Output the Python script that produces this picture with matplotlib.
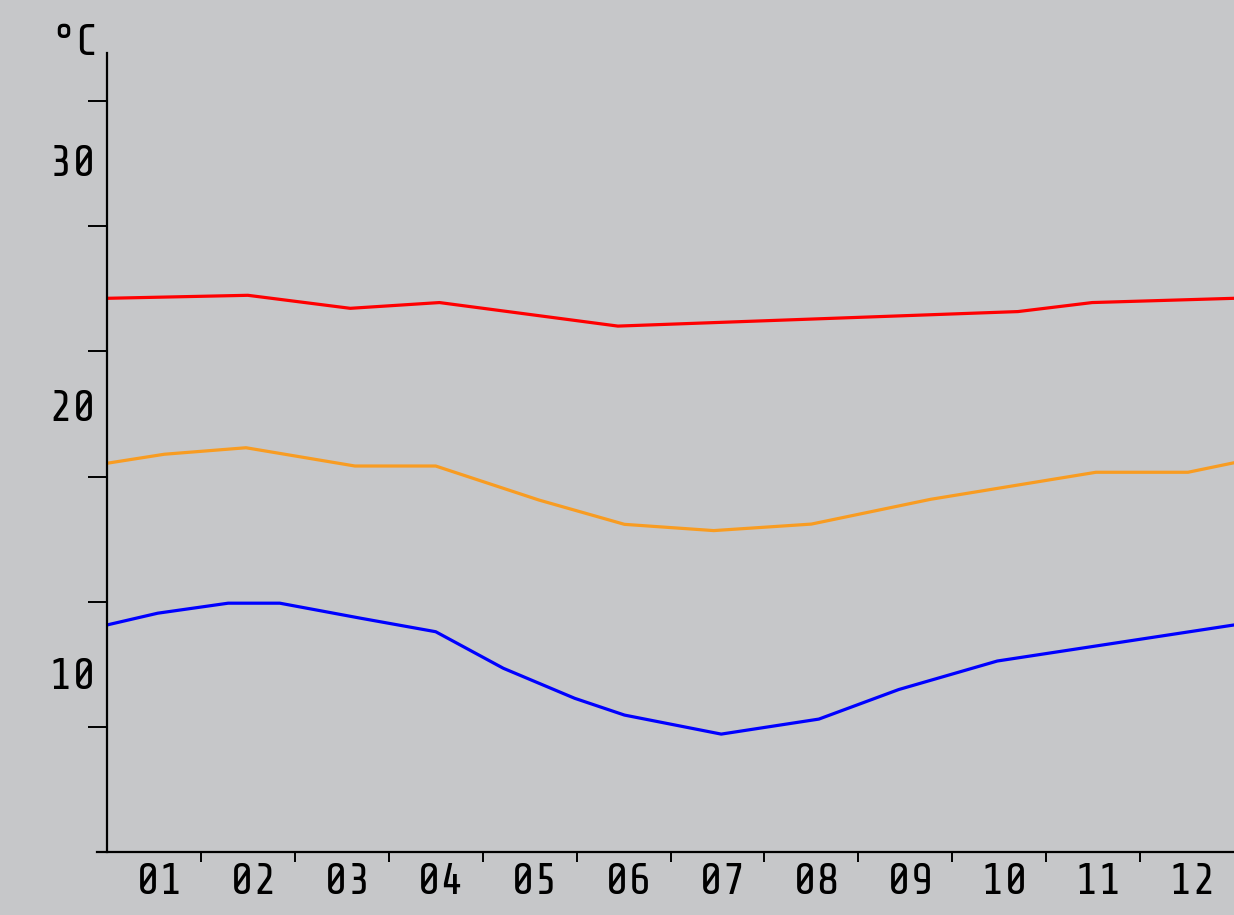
import numpy as np
import matplotlib
matplotlib.use("Agg")
import matplotlib.pyplot as plt
from matplotlib import font_manager

# monthly climate curves (°C), x in months from start of year
red_x = [0.0, 1.50, 2.59, 3.54, 5.44, 9.70, 10.49, 12.0]
red_t = [24.62, 24.74, 24.22, 24.45, 23.51, 24.09, 24.45, 24.62]

orange_x = [0.0, 0.61, 1.48, 2.64, 3.50, 4.60, 5.51, 6.46, 7.50, 8.77, 10.53, 11.51, 12.0]
orange_t = [18.03, 18.39, 18.65, 17.92, 17.92, 16.56, 15.59, 15.34, 15.60, 16.59, 17.67, 17.67, 18.05]

blue_x = [0.0, 0.54, 1.29, 1.84, 2.70, 3.50, 4.22, 4.98, 5.51, 6.54, 7.58, 8.43, 9.48, 12.0]
blue_t = [11.57, 12.04, 12.44, 12.44, 11.84, 11.30, 9.84, 8.64, 7.97, 7.21, 7.81, 8.99, 10.13, 11.57]

months = ["01", "02", "03", "04", "05", "06", "07", "08", "09", "10", "11", "12"]
y_ticks = [7.5, 12.5, 17.5, 22.5, 27.5, 32.5]
y_labels = ["10", "20", "30"]
y_label_pos = [9.5, 20.2, 30.0]

# pick a narrow technical-looking face if there is one
available = {f.name for f in font_manager.fontManager.ttflist}
font = "DejaVu Sans"
for cand in ["Share Tech Mono", "Roboto Condensed", "Liberation Sans Narrow"]:
    if cand in available:
        font = cand
        break
plt.rcParams['font.family'] = [font, 'DejaVu Sans']

bg = "#c6c7c9"
fig = plt.figure(figsize=(12.34, 9.15), dpi=100, facecolor=bg)
ax = fig.add_axes([107/1234, 63/915, 1127/1234, 799/915], facecolor=bg)

ax.plot(red_x, red_t, color="#ff0000", lw=2.3)
ax.plot(orange_x, orange_t, color="#f89c22", lw=2.3)
ax.plot(blue_x, blue_t, color="#0000ff", lw=2.3)

ax.set_xlim(0, 12)
ax.set_ylim(2.5, 34.42)

for s in ["top", "right"]:
    ax.spines[s].set_visible(False)
ax.spines["left"].set_linewidth(1.6)
ax.spines["bottom"].set_linewidth(1.6)
ax.spines["bottom"].set_bounds(-0.106, 12)

ax.set_yticks(y_ticks)
ax.set_yticklabels([])
ax.tick_params(axis="y", length=14, width=1.4, direction="out")

ax.set_xticks(np.arange(1, 12))
ax.set_xticklabels([])
ax.tick_params(axis="x", which="major", length=7, width=1.4, direction="out")
ax.set_xticks(np.arange(12) + 0.56, minor=True)
ax.set_xticklabels(months, minor=True, fontsize=32)
ax.tick_params(axis="x", which="minor", length=0, pad=8)

for lab, pos in zip(y_labels, y_label_pos):
    ax.text(-0.11, pos, lab, ha="right", va="center", fontsize=32, clip_on=False)

ax.text(-0.08, 34.05, "°C", ha="right", va="bottom", fontsize=32, clip_on=False)

fig.savefig("out.png", dpi=100, facecolor=bg)
